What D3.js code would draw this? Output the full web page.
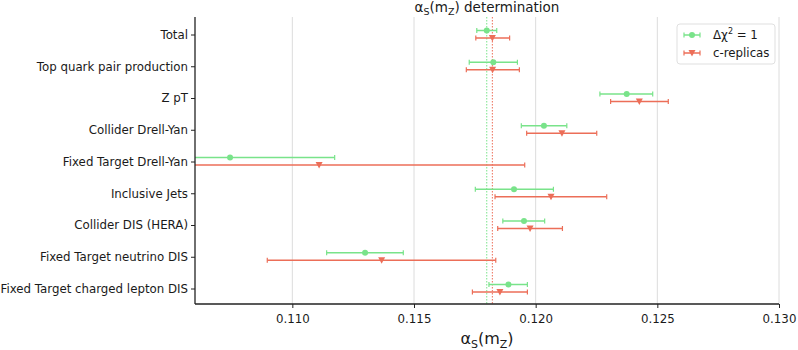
<!DOCTYPE html>
<html>
<head>
<meta charset="utf-8">
<script src="https://cdn.jsdelivr.net/npm/d3@7"></script>
<style>
body{margin:0;background:#fff;}
text{font-family:"DejaVu Sans",sans-serif;fill:#1a1a1a;}
.grid line{stroke:#dcdcdc;stroke-width:1;}
</style>
</head>
<body>
<div id="chart"></div>
<script>
// categories top to bottom
var categories = ["Total","Top quark pair production","Z pT","Collider Drell-Yan","Fixed Target Drell-Yan",
	"Inclusive Jets","Collider DIS (HERA)","Fixed Target neutrino DIS","Fixed Target charged lepton DIS"];
// Delta chi2 = 1 series: central, low, high
var chiCentral = [0.11799,0.11826,0.12374,0.12034,0.10744,0.11911,0.11952,0.11299,0.11888];
var chiLow     = [0.11758,0.11727,0.12264,0.11941,0.10300,0.11752,0.11865,0.11141,0.11808];
var chiHigh    = [0.11840,0.11925,0.12481,0.12128,0.11174,0.12073,0.12037,0.11456,0.11966];
// c-replicas series
var repCentral = [0.11822,0.11823,0.12426,0.12108,0.11110,0.12063,0.11977,0.11367,0.11853];
var repLow     = [0.11754,0.11715,0.12308,0.11963,0.10200,0.11833,0.11844,0.10897,0.11740];
var repHigh    = [0.11893,0.11933,0.12545,0.12251,0.11955,0.12292,0.12110,0.11836,0.11966];
var xTicks = [0.110,0.115,0.120,0.125,0.130];

var width = 798, height = 350;
var green = "#79e38a", red = "#ec6e58";
var plotTop = 17, plotBottom = 304, plotLeft = 195, plotRight = 779;

var svg = d3.select("#chart").append("svg")
	.attr("width",width).attr("height",height);

var xScale = d3.scaleLinear().domain([0.106,0.130]).range([plotLeft,plotRight]);
var yScale = d3.scalePoint().domain(categories).range([34.5,288.5]);

svg.append("defs").append("clipPath").attr("id","clip")
	.append("rect").attr("x",plotLeft).attr("y",plotTop).attr("width",plotRight-plotLeft).attr("height",plotBottom-plotTop);

// grid
svg.append("g").attr("class","grid")
	.selectAll("line").data(xTicks).enter().append("line")
	.attr("x1",function(d){return xScale(d);}).attr("x2",function(d){return xScale(d);})
	.attr("y1",plotTop).attr("y2",plotBottom);

// reference lines at Total central values
svg.append("line").attr("x1",xScale(chiCentral[0])).attr("x2",xScale(chiCentral[0]))
	.attr("y1",plotTop).attr("y2",plotBottom)
	.attr("stroke",green).attr("stroke-width",1).attr("stroke-dasharray","1.5,1.5");
svg.append("line").attr("x1",xScale(repCentral[0])).attr("x2",xScale(repCentral[0]))
	.attr("y1",plotTop).attr("y2",plotBottom)
	.attr("stroke",red).attr("stroke-width",1).attr("stroke-dasharray","1.5,1.5");

var plot = svg.append("g").attr("clip-path","url(#clip)");

function drawSeries(central,low,high,color,offset,marker){
	var g = plot.append("g");
	categories.forEach(function(c,i){
		var y = yScale(c)+offset;
		g.append("line").attr("x1",xScale(low[i])).attr("x2",xScale(high[i]))
			.attr("y1",y).attr("y2",y).attr("stroke",color).attr("stroke-width",1.5);
		[low[i],high[i]].forEach(function(v){
			g.append("line").attr("x1",xScale(v)).attr("x2",xScale(v))
				.attr("y1",y-2.5).attr("y2",y+2.5).attr("stroke",color).attr("stroke-width",1.2);
		});
		if(marker=="circle"){
			g.append("circle").attr("cx",xScale(central[i])).attr("cy",y).attr("r",3).attr("fill",color);
		}else{
			g.append("path").attr("transform","translate("+xScale(central[i])+","+y+")")
				.attr("d","M-3.5,-3L3.5,-3L0,3.5Z").attr("fill",color);
		}
	});
}
drawSeries(chiCentral,chiLow,chiHigh,green,-4,"circle");
drawSeries(repCentral,repLow,repHigh,red,3.5,"triangle");

// axes
var xAxis = svg.append("g").attr("transform","translate(0,"+plotBottom+")")
	.call(d3.axisBottom(xScale).tickValues(xTicks).tickFormat(d3.format(".3f")).tickSize(4).tickSizeOuter(0));
xAxis.select(".domain").remove();
xAxis.selectAll("text").attr("font-size","11.8px").attr("dy","1.05em").style("font-family","DejaVu Sans");
var yAxis = svg.append("g").attr("transform","translate("+plotLeft+",0)")
	.call(d3.axisLeft(yScale).tickSize(4).tickSizeOuter(0));
yAxis.select(".domain").remove();
yAxis.selectAll("text").attr("font-size","11.8px").attr("x",-7).style("font-family","DejaVu Sans");
svg.selectAll(".tick line").attr("stroke","#222");
svg.selectAll(".tick text").attr("fill","#1a1a1a");

svg.append("line").attr("x1",plotLeft).attr("x2",plotRight).attr("y1",plotBottom).attr("y2",plotBottom)
	.attr("stroke","#222").attr("stroke-width",1.3);
svg.append("line").attr("x1",plotLeft).attr("x2",plotLeft).attr("y1",plotTop).attr("y2",plotBottom)
	.attr("stroke","#222").attr("stroke-width",1.3);

// title
var title = svg.append("text").attr("x",(plotLeft+plotRight)/2).attr("y",12).attr("text-anchor","middle").attr("font-size","13.5px");
title.append("tspan").text("α");
title.append("tspan").attr("font-size","9.5px").attr("dy",3).text("S");
title.append("tspan").attr("dy",-3).text("(m");
title.append("tspan").attr("font-size","9.5px").attr("dy",3).text("Z");
title.append("tspan").attr("dy",-3).text(") determination");

// x label
var xl = svg.append("text").attr("x",(plotLeft+plotRight)/2).attr("y",344).attr("text-anchor","middle").attr("font-size","16px");
xl.append("tspan").text("α");
xl.append("tspan").attr("font-size","11px").attr("dy",4).text("S");
xl.append("tspan").attr("dy",-4).text("(m");
xl.append("tspan").attr("font-size","11px").attr("dy",4).text("Z");
xl.append("tspan").attr("dy",-4).text(")");

// legend
var lg = svg.append("g").attr("transform","translate(677,24)");
lg.append("rect").attr("width",98).attr("height",40).attr("rx",3)
	.attr("fill","#fff").attr("stroke","#ddd").attr("opacity",0.9);
[[green,"circle",11],[red,"triangle",29]].forEach(function(e){
	var y = e[2];
	lg.append("line").attr("x1",7).attr("x2",23).attr("y1",y).attr("y2",y).attr("stroke",e[0]).attr("stroke-width",1.5);
	[7,23].forEach(function(x){
		lg.append("line").attr("x1",x).attr("x2",x).attr("y1",y-2.5).attr("y2",y+2.5).attr("stroke",e[0]).attr("stroke-width",1.2);
	});
	if(e[1]=="circle") lg.append("circle").attr("cx",15).attr("cy",y).attr("r",3).attr("fill",e[0]);
	else lg.append("path").attr("transform","translate(15,"+y+")").attr("d","M-3.5,-3L3.5,-3L0,3.5Z").attr("fill",e[0]);
});
var t1 = lg.append("text").attr("x",36).attr("y",15).attr("font-size","11.8px");
t1.append("tspan").text("Δχ");
t1.append("tspan").attr("font-size","8px").attr("dy",-5).text("2");
t1.append("tspan").attr("dy",5).text(" = 1");
lg.append("text").attr("x",36).attr("y",33).attr("font-size","11.8px").text("c-replicas");
</script>
</body>
</html>
